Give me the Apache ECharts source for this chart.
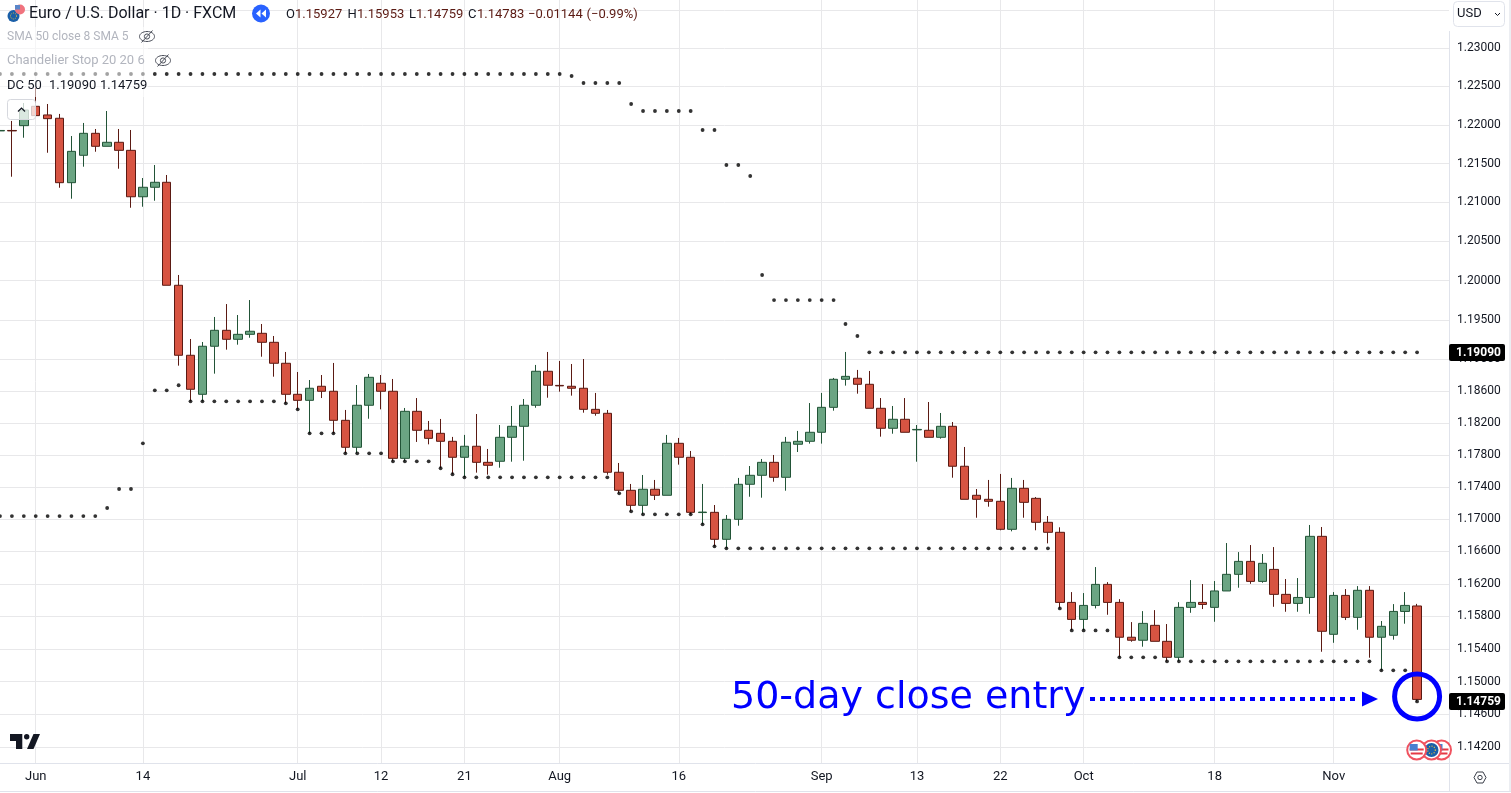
<!DOCTYPE html>
<html>
<head>
<meta charset="UTF-8">
<title>Euro / U.S. Dollar</title>
<style>
  html, body { margin: 0; padding: 0; background: #fff; }
  #main { width: 1511px; height: 793px; }
</style>
<script src="https://cdn.jsdelivr.net/npm/echarts@6/dist/echarts.min.js"></script>
</head>
<body>
<div id="main"></div>
<script>
// trading day number of each candle, 0 = 1 Jun, from -3 to 116
var days = [-3,-2,-1,0,1,2,3,4,5,6,7,8,9,10,11,12,13,14,15,16,17,18,19,20,21,22,23,24,25,26,27,28,29,30,31,32,33,34,35,36,37,38,39,40,41,42,43,44,45,46,47,48,49,50,51,52,53,54,55,56,57,58,59,60,61,62,63,64,65,66,67,68,69,70,71,72,73,74,75,76,77,78,79,80,81,82,83,84,85,86,87,88,89,90,91,92,93,94,95,96,97,98,99,100,101,102,103,104,105,106,107,108,109,110,111,112,113,114,115,116];

var opens = [1.21922,1.21928,1.2199,1.22241,1.22129,1.22086,1.21254,1.21607,1.21891,1.21723,1.21775,1.21671,1.21073,1.21195,1.21259,1.19941,1.19053,1.18561,1.19167,1.19369,1.19255,1.19318,1.19331,1.19217,1.18952,1.18561,1.18485,1.18662,1.18599,1.18234,1.17896,1.18423,1.187,1.18599,1.17758,1.18347,1.18109,1.18071,1.17971,1.17771,1.17909,1.17708,1.17721,1.18021,1.18159,1.18423,1.18851,1.18673,1.18662,1.18637,1.18372,1.18322,1.17584,1.17359,1.17172,1.17372,1.17297,1.17946,1.17771,1.17082,1.17085,1.1675,1.16998,1.17434,1.17546,1.17708,1.17521,1.17934,1.17971,1.18084,1.18397,1.1875,1.18763,1.18687,1.18385,1.18134,1.18247,1.18114,1.18109,1.18021,1.18159,1.17659,1.17297,1.17247,1.17222,1.16874,1.17384,1.17259,1.16961,1.16837,1.15971,1.15762,1.15934,1.16193,1.15971,1.15543,1.15506,1.15689,1.15493,1.15297,1.1591,1.15971,1.1591,1.16112,1.16317,1.16477,1.1623,1.16378,1.1607,1.15959,1.16032,1.16787,1.15579,1.16057,1.15787,1.1612,1.15543,1.15567,1.1586,1.15927];
var closes = [1.21928,1.21922,1.22193,1.2212,1.22081,1.21254,1.21658,1.21891,1.21723,1.21775,1.21671,1.21073,1.21195,1.21259,1.19941,1.19053,1.18624,1.19167,1.19369,1.19255,1.19318,1.19357,1.19217,1.18952,1.18561,1.18485,1.18637,1.18599,1.18234,1.17896,1.18423,1.18775,1.18599,1.17758,1.18347,1.18109,1.18008,1.17971,1.17771,1.17909,1.17708,1.17671,1.18021,1.18159,1.18423,1.18851,1.18675,1.18667,1.18637,1.18372,1.18322,1.17584,1.17359,1.17172,1.17372,1.17297,1.17946,1.17771,1.17085,1.17088,1.1675,1.16998,1.17434,1.17546,1.17708,1.17521,1.17959,1.17971,1.18084,1.18397,1.1875,1.18787,1.18687,1.18385,1.18134,1.18247,1.18084,1.1812,1.18021,1.18159,1.17659,1.17247,1.17247,1.17222,1.16874,1.17384,1.17209,1.16961,1.16837,1.15971,1.15762,1.15934,1.16193,1.15971,1.15543,1.15506,1.15713,1.15493,1.15297,1.1591,1.15971,1.15946,1.16112,1.16317,1.16477,1.1623,1.16453,1.1607,1.15959,1.16032,1.16787,1.15616,1.16057,1.15787,1.1612,1.15543,1.15677,1.1586,1.15934,1.14783];
var lows = [1.21908,1.21331,1.21834,1.2212,1.2164,1.21189,1.21048,1.2146,1.21653,1.21723,1.21434,1.20932,1.20945,1.21022,1.19941,1.18922,1.18473,1.18473,1.18821,1.19124,1.19187,1.19275,1.19035,1.18783,1.18448,1.18372,1.18071,1.18514,1.18071,1.17821,1.17821,1.18254,1.18372,1.17721,1.17721,1.17963,1.17933,1.17634,1.17559,1.17521,1.17579,1.17554,1.17641,1.17716,1.17728,1.18392,1.18518,1.18594,1.18544,1.1833,1.18292,1.17554,1.17322,1.17098,1.1706,1.17238,1.17297,1.17679,1.1706,1.16936,1.16663,1.16638,1.16919,1.17279,1.17267,1.17466,1.17354,1.17837,1.17942,1.17942,1.18355,1.1867,1.18569,1.18385,1.18029,1.18066,1.18084,1.17716,1.18021,1.18004,1.17516,1.17247,1.17018,1.17155,1.16862,1.16849,1.17018,1.16862,1.167,1.15897,1.15631,1.15631,1.15897,1.15819,1.15297,1.15488,1.15427,1.15493,1.15248,1.15248,1.15843,1.15889,1.15733,1.16112,1.16152,1.162,1.16213,1.15917,1.15856,1.15856,1.15831,1.15365,1.15475,1.15754,1.15635,1.15292,1.15138,1.15513,1.15709,1.14759];
var highs = [1.21934,1.22051,1.22284,1.22479,1.22271,1.22142,1.21856,1.22025,1.21947,1.2218,1.21947,1.21934,1.21314,1.21482,1.21353,1.20072,1.19259,1.19221,1.19538,1.19702,1.19563,1.19753,1.19449,1.19297,1.19095,1.18842,1.18741,1.18804,1.18956,1.18364,1.18678,1.18817,1.18804,1.18754,1.18389,1.18514,1.18226,1.18251,1.18026,1.18051,1.18313,1.17875,1.18175,1.18414,1.18502,1.18931,1.19095,1.18981,1.18943,1.19006,1.18578,1.18364,1.177,1.17438,1.1755,1.17488,1.18051,1.18013,1.1785,1.17438,1.17176,1.17052,1.17513,1.17662,1.1775,1.178,1.18026,1.18101,1.18451,1.18578,1.18767,1.19095,1.18868,1.18855,1.18514,1.18414,1.18514,1.18175,1.18464,1.18326,1.18213,1.179,1.17375,1.17488,1.17563,1.17513,1.17488,1.17275,1.17039,1.16899,1.16098,1.16086,1.16407,1.16221,1.16011,1.15729,1.15864,1.15876,1.15705,1.15974,1.16246,1.16197,1.16234,1.16704,1.16592,1.16679,1.16568,1.16654,1.16259,1.16271,1.16928,1.16903,1.16098,1.16135,1.16172,1.16172,1.15742,1.1595,1.16098,1.15953];

// DC 50 channel
var dcUpper = [1.22661,1.22661,1.22661,1.22661,1.22661,1.22661,1.22661,1.22661,1.22661,1.22661,1.22661,1.22661,1.22661,1.22661,1.22661,1.22661,1.22661,1.22661,1.22661,1.22661,1.22661,1.22661,1.22661,1.22661,1.22661,1.22661,1.22661,1.22661,1.22661,1.22661,1.22661,1.22661,1.22661,1.22661,1.22661,1.22661,1.22661,1.22661,1.22661,1.22661,1.22661,1.22661,1.22661,1.22661,1.22661,1.22661,1.22661,1.22661,1.22635,1.22544,1.22544,1.22544,1.22544,1.22271,1.2218,1.2218,1.2218,1.2218,1.2218,1.21934,1.21934,1.21482,1.21482,1.2134,1.20072,1.19753,1.19753,1.19753,1.19753,1.19753,1.19753,1.19449,1.19297,1.1909,1.1909,1.1909,1.1909,1.1909,1.1909,1.1909,1.1909,1.1909,1.1909,1.1909,1.1909,1.1909,1.1909,1.1909,1.1909,1.1909,1.1909,1.1909,1.1909,1.1909,1.1909,1.1909,1.1909,1.1909,1.1909,1.1909,1.1909,1.1909,1.1909,1.1909,1.1909,1.1909,1.1909,1.1909,1.1909,1.1909,1.1909,1.1909,1.1909,1.1909,1.1909,1.1909,1.1909,1.1909,1.1909,1.1909];
var dcLower = [1.17039,1.17039,1.17039,1.17039,1.17039,1.17039,1.17039,1.17039,1.17039,1.17139,1.17375,1.17375,1.17946,1.18611,1.18611,1.18675,1.18473,1.18473,1.18473,1.18473,1.18473,1.18473,1.18473,1.18473,1.18448,1.18372,1.18071,1.18071,1.18071,1.17821,1.17821,1.17821,1.17821,1.17721,1.17721,1.17721,1.17721,1.17634,1.17559,1.17521,1.17521,1.17521,1.17521,1.17521,1.17521,1.17521,1.17521,1.17521,1.17521,1.17521,1.17521,1.17521,1.17322,1.17098,1.1706,1.1706,1.1706,1.1706,1.1706,1.16936,1.16663,1.16638,1.16638,1.16638,1.16638,1.16638,1.16638,1.16638,1.16638,1.16638,1.16638,1.16638,1.16638,1.16638,1.16638,1.16638,1.16638,1.16638,1.16638,1.16638,1.16638,1.16638,1.16638,1.16638,1.16638,1.16638,1.16638,1.16638,1.16638,1.15897,1.15627,1.15627,1.15627,1.15627,1.15297,1.15297,1.15297,1.15297,1.15248,1.15248,1.15248,1.15248,1.15248,1.15248,1.15248,1.15248,1.15248,1.15248,1.15248,1.15248,1.15248,1.15248,1.15248,1.15248,1.15248,1.15248,1.15138,1.15138,1.15138,1.14759];

var tickDays = [0,9,22,29,36,44,54,66,74,81,88,99,109];
var tickLabels = ['Jun','14','Jul','12','21','Aug','16','Sep','13','22','Oct','18','Nov'];
var gridPrices = [1.142,1.146,1.15,1.154,1.158,1.162,1.166,1.17,1.174,1.178,1.182,1.186,1.19,1.195,1.2,1.205,1.21,1.215,1.22,1.225,1.23,1.235];
var labelPrices = [1.142,1.146,1.15,1.154,1.158,1.162,1.166,1.17,1.174,1.178,1.182,1.186,1.19,1.195,1.2,1.205,1.21,1.215,1.22,1.225,1.23];
var entryMark = [116, 1.14819];

var FONT = 'Roboto';
var INK = '#131722';
var GREEN = '#6ba583', GREEN_DARK = '#225437';
var RED = '#d75442', RED_DARK = '#5b1a13';
var GRIDC = '#e8e8ea';

function zip(a) {
    return days.map(function (d, i) { return [d, a[i]]; });
}

function eye(x, y) {
    return [
        { type: 'ellipse', z: 30, shape: { cx: x + 8, cy: y + 5.5, rx: 7.5, ry: 5 }, style: { fill: null, stroke: '#4a4e59', lineWidth: 1 } },
        { type: 'circle', z: 30, shape: { cx: x + 8, cy: y + 5.5, r: 2.6 }, style: { fill: null, stroke: '#4a4e59', lineWidth: 1 } },
        { type: 'line', z: 30, shape: { x1: x + 2.5, y1: y + 11.5, x2: x + 13.5, y2: y - 0.5 }, style: { stroke: '#4a4e59', lineWidth: 1 } }
    ];
}

function txt(x, y, s, size, color, extra) {
    return Object.assign({ type: 'text', z: 31, x: x, y: y, style: { text: s, font: size + 'px ' + FONT, fill: color, verticalAlign: 'middle' } }, extra || {});
}

function priceTag(y, s) {
    return [
        { type: 'rect', z: 40, shape: { x: 1449, y: y - 8.5, width: 56, height: 17, r: 2 }, style: { fill: '#000' } },
        { type: 'text', z: 41, x: 1478.5, y: y, style: { text: s, font: 'bold 12px ' + FONT, fill: '#fff', align: 'center', verticalAlign: 'middle' } }
    ];
}

// z goes up from right to left so the left coin lies on top
function flagCoin(cx, face, z) {
    var out = [
        { type: 'circle', z: z, shape: { cx: cx, cy: 750, r: 9.5 }, style: { fill: '#fff', stroke: '#f0525f', lineWidth: 2 } }
    ];
    if (face === 'us') {
        out.push({ type: 'rect', z: z, shape: { x: cx - 7, y: 748.5, width: 14, height: 2 }, style: { fill: '#e53945' } });
        out.push({ type: 'rect', z: z, shape: { x: cx - 6, y: 752.5, width: 12, height: 2 }, style: { fill: '#e53945' } });
        out.push({ type: 'rect', z: z, shape: { x: cx - 7, y: 744, width: 8, height: 6.5 }, style: { fill: '#4a7fd0' } });
    } else {
        out.push({ type: 'circle', z: z, shape: { cx: cx, cy: 750, r: 7 }, style: { fill: '#1a5fa8' } });
        out.push({ type: 'circle', z: z, shape: { cx: cx, cy: 750, r: 3.8 }, style: { fill: null, stroke: '#f3c13a', lineWidth: 1.2, lineDash: [1, 1.5] } });
    }
    return out;
}

var furniture = [].concat(
    [
        // panel lines
        { type: 'line', z: 5, shape: { x1: 1449.5, y1: 31, x2: 1449.5, y2: 791 }, style: { stroke: '#e0e3eb', lineWidth: 1 } },
        { type: 'line', z: 5, shape: { x1: 0, y1: 763.5, x2: 1511, y2: 763.5 }, style: { stroke: '#e0e3eb', lineWidth: 1 } },
        { type: 'line', z: 5, shape: { x1: 0, y1: 791.5, x2: 1511, y2: 791.5 }, style: { stroke: '#e0e3eb', lineWidth: 1 } },
        { type: 'rect', z: 5, shape: { x: 1509, y: 0, width: 2, height: 791 }, style: { fill: '#eceef2' } },

        // currency button
        { type: 'rect', z: 30, shape: { x: 1453.5, y: 1.5, width: 51, height: 25, r: 4 }, style: { fill: '#fff', stroke: '#e0e3eb', lineWidth: 1 } },
        txt(1457, 14, 'USD', 13, INK),
        { type: 'polyline', z: 31, shape: { points: [[1495, 13], [1497.5, 15.5], [1500, 13]] }, style: { fill: null, stroke: INK, lineWidth: 1 } },

        // veil behind the legend rows
        { type: 'rect', z: 20, shape: { x: 0, y: 27, width: 148, height: 70 }, style: { fill: 'rgba(255,255,255,0.55)' } },

        // symbol icon
        { type: 'circle', z: 30, shape: { cx: 13.5, cy: 16, r: 6 }, style: { fill: '#1a5fa8' } },
        { type: 'circle', z: 31, shape: { cx: 13.5, cy: 16, r: 3 }, style: { fill: null, stroke: '#f3c13a', lineWidth: 1, lineDash: [1, 1.2] } },
        { type: 'circle', z: 30, shape: { cx: 20, cy: 9.5, r: 5 }, style: { fill: '#f0737e' } },
        { type: 'rect', z: 31, shape: { x: 15, y: 5, width: 5, height: 4.5 }, style: { fill: '#5a86c9' } },

        txt(29, 14, 'Euro / U.S. Dollar · 1D · FXCM', 16, INK),

        // jump-back button
        { type: 'circle', z: 30, shape: { cx: 261, cy: 13.5, r: 9 }, style: { fill: '#2962ff' } },
        { type: 'polygon', z: 31, shape: { points: [[260.5, 9.5], [256, 13.5], [260.5, 17.5]] }, style: { fill: '#fff' } },
        { type: 'polygon', z: 31, shape: { points: [[266, 9.5], [261.5, 13.5], [266, 17.5]] }, style: { fill: '#fff' } },

        // OHLC row
        txt(286, 15, 'O', 13, INK), txt(295, 15, '1.15927', 13, RED_DARK),
        txt(347.5, 15, 'H', 13, INK), txt(357, 15, '1.15953', 13, RED_DARK),
        txt(409, 15, 'L', 13, INK), txt(416, 15, '1.14759', 13, RED_DARK),
        txt(468, 15, 'C', 13, INK), txt(477, 15, '1.14783', 13, RED_DARK),
        txt(528, 15, '\u22120.01144', 13, RED_DARK),
        txt(586.5, 15, '(\u22120.99%)', 13, RED_DARK),

        txt(7, 37, 'SMA 50 close 8 SMA 5', 12, '#b2b5be'),
        txt(7, 61, 'Chandelier Stop 20 20 6', 13, '#b2b5be'),
        txt(7, 86, 'DC 50', 13, INK),
        txt(49, 86, '1.19090', 13, INK),
        txt(100, 86, '1.14759', 13, INK),

        // collapse button
        { type: 'rect', z: 30, shape: { x: 7.5, y: 99.5, width: 28, height: 20, r: 3 }, style: { fill: 'rgba(255,255,255,0.75)', stroke: '#d6d8de', lineWidth: 1 } },
        { type: 'polyline', z: 31, shape: { points: [[18, 111.5], [21.5, 108], [25, 111.5]] }, style: { fill: null, stroke: INK, lineWidth: 1.2 } },

        // TV logo
        { type: 'polygon', z: 30, shape: { points: [[10, 734], [22.3, 734], [22.3, 749], [16, 749], [16, 741], [10, 741]] }, style: { fill: INK } },
        { type: 'circle', z: 30, shape: { cx: 26.7, cy: 736.7, r: 2.7 }, style: { fill: INK } },
        { type: 'polygon', z: 30, shape: { points: [[33.5, 734], [40, 734], [33.5, 749], [27, 749]] }, style: { fill: INK } },

        // settings
        { type: 'polygon', z: 30, shape: { points: [[1474, 777.5], [1477, 772], [1483, 772], [1486, 777.5], [1483, 783], [1477, 783]] }, style: { fill: null, stroke: '#3a3e49', lineWidth: 1 } },
        { type: 'circle', z: 30, shape: { cx: 1480, cy: 777.5, r: 2.2 }, style: { fill: null, stroke: '#3a3e49', lineWidth: 1 } },

        // annotation
        { type: 'text', z: 50, x: 731, y: 698, style: { text: '50-day close entry', font: '38px "DejaVu Sans"', fill: '#0000ff', verticalAlign: 'middle' } },
        { type: 'line', z: 50, shape: { x1: 1090, y1: 699, x2: 1356, y2: 699 }, style: { stroke: '#0000ff', lineWidth: 4, lineDash: [5, 5] } },
        { type: 'polygon', z: 50, shape: { points: [[1362, 691.5], [1378, 699], [1362, 706.5]] }, style: { fill: '#0000ff' } }
    ],
    eye(139, 31), eye(155, 55),
    flagCoin(1441.5, 'us', 30), flagCoin(1431.5, 'eu', 31), flagCoin(1416.7, 'us', 32),
    priceTag(352.5, '1.19090'), priceTag(701.5, '1.14759')
);

var myChart = echarts.init(document.getElementById('main'), null, { renderer: 'canvas' });

var option = {
    animation: false,
    backgroundColor: '#fff',
    textStyle: { fontFamily: FONT },
    grid: { left: 0, right: 62, top: 0, bottom: 30, containLabel: false },
    xAxis: {
        type: 'value',
        min: -3,
        max: 118.68,
        axisLine: { show: false },
        axisTick: { show: false, customValues: tickDays },
        splitLine: { show: true, lineStyle: { color: GRIDC, width: 1 } },
        axisLabel: {
            customValues: tickDays,
            color: INK,
            fontSize: 13,
            fontFamily: FONT,
            margin: 7,
            formatter: function (v) { return tickLabels[tickDays.indexOf(v)]; }
        }
    },
    yAxis: {
        type: 'log',
        logBase: 10,
        position: 'right',
        min: 1.14011,
        max: 1.23628,
        axisLine: { show: false },
        axisTick: { show: false, customValues: gridPrices },
        splitLine: { show: true, lineStyle: { color: GRIDC, width: 1 } },
        axisLabel: {
            customValues: labelPrices,
            color: INK,
            fontSize: 12,
            fontFamily: FONT,
            margin: 8,
            formatter: function (v) { return Number(v).toFixed(5); }
        }
    },
    series: [
        {
            type: 'candlestick',
            layout: 'horizontal',
            barWidth: 9,
            encode: { x: 0, y: [1, 2, 3, 4] },
            itemStyle: { color: GREEN, color0: RED, borderColor: GREEN_DARK, borderColor0: RED_DARK, borderWidth: 1 },
            data: days.map(function (d, i) { return [d, opens[i], closes[i], lows[i], highs[i]]; }),
            z: 3
        },
        { type: 'scatter', name: 'DC upper', symbolSize: 3.8, itemStyle: { color: '#000' }, data: zip(dcUpper), z: 4 },
        { type: 'scatter', name: 'DC lower', symbolSize: 3.8, itemStyle: { color: '#000' }, data: zip(dcLower), z: 4 },
        { type: 'scatter', name: 'entry', symbol: 'circle', symbolSize: 45, itemStyle: { color: 'transparent', borderColor: '#0000ff', borderWidth: 5, opacity: 1 }, data: [entryMark], z: 6 }
    ],
    graphic: furniture
};

myChart.setOption(option);
</script>
</body>
</html>
